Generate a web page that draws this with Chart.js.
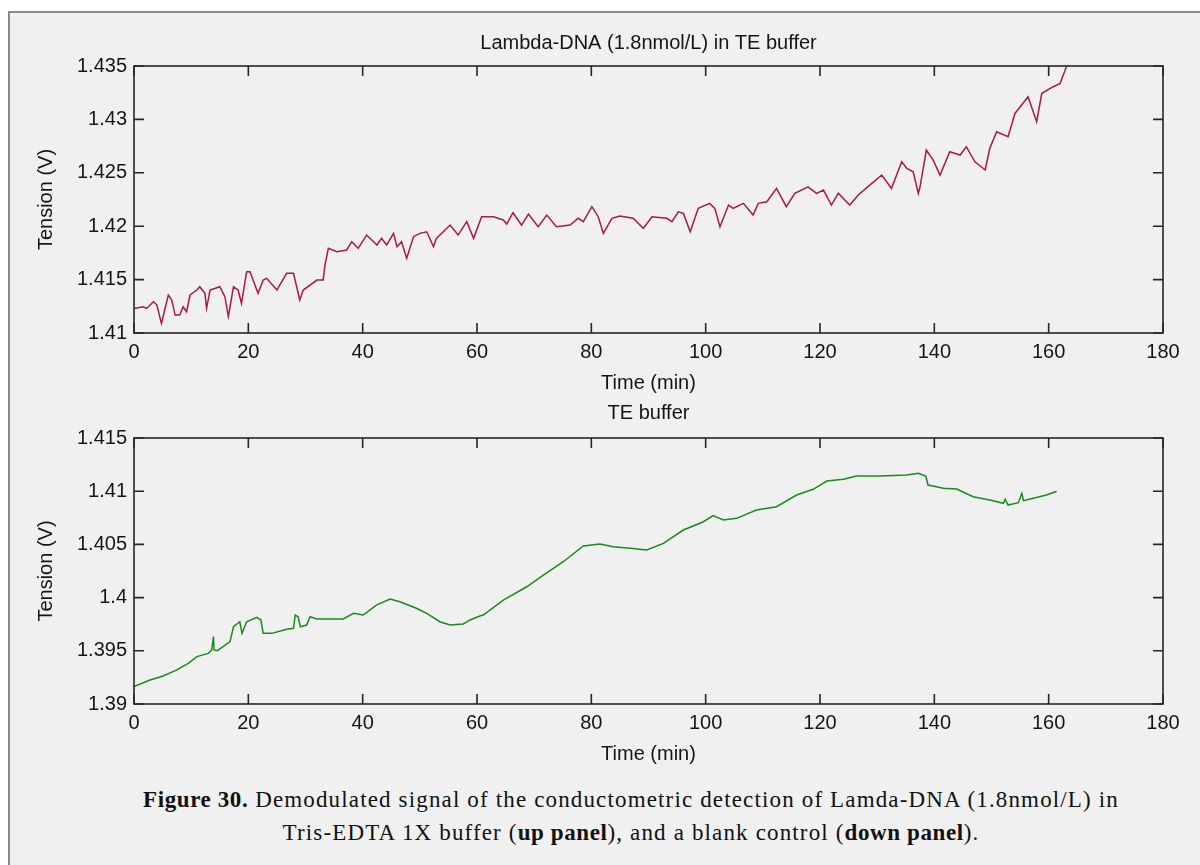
<!DOCTYPE html>
<html>
<head>
<meta charset="utf-8">
<script src="https://cdn.jsdelivr.net/npm/chart.js@4.4.1/dist/chart.umd.min.js"></script>
<style>
  html, body { margin: 0; padding: 0; background: #fff; }
  body { width: 1200px; height: 865px; position: relative; overflow: hidden; }
  #frame {
    position: absolute; left: 8px; top: 11px; width: 1220px; height: 880px;
    border: 2px solid #8a8a8a; background: #f0f0f0;
  }
  .panel { position: absolute; left: 0; width: 1200px; }
  #top-panel { top: 20px; height: 375px; }
  #bottom-panel { top: 390px; height: 376px; }
  #caption {
    position: absolute; left: 0; top: 783px; width: 1262px; text-align: center;
    font-family: "Liberation Serif", serif; font-size: 23px; line-height: 33px; color: #111;
    letter-spacing: 1.15px;
  }
  #caption b { font-weight: bold; letter-spacing: 0.6px; }
</style>
</head>
<body>
<div id="frame"></div>
<div class="panel" id="top-panel"><canvas id="top-chart"></canvas></div>
<div class="panel" id="bottom-panel"><canvas id="bottom-chart"></canvas></div>
<div id="caption"><b>Figure 30.</b> Demodulated signal of the conductometric detection of Lamda-DNA (1.8nmol/L) in<br>Tris-EDTA 1X buffer (<b>up panel</b>), and a blank control (<b>down panel</b>).</div>

<script>
// Up panel: Lambda-DNA in TE buffer (time in min, tension in V)
const redTime = [0, 1.6, 2.2, 3.4, 4.0, 4.5, 4.8, 6.0, 6.6, 7.2,
  8.0, 8.6, 9.2, 9.8, 11.0, 11.5, 12.4, 12.7, 13.3, 15.0,
  15.9, 16.5, 17.4, 18.2, 18.8, 19.7, 20.3, 21.7, 22.6, 23.2,
  25.0, 26.7, 27.9, 29.0, 29.6, 32.0, 33.1, 33.4, 34.0, 35.5,
  37.2, 38.1, 39.2, 40.7, 42.5, 43.3, 44.2, 45.4, 46.0, 46.8,
  47.7, 48.9, 50.0, 51.2, 52.4, 52.9, 55.3, 56.7, 58.2, 59.4,
  60.8, 62.9, 64.6, 65.2, 66.3, 67.8, 69.0, 70.7, 72.2, 73.9,
  76.3, 77.7, 78.6, 80.1, 81.2, 82.1, 83.6, 85.0, 87.3, 89.1,
  90.6, 93.2, 94.1, 95.2, 96.1, 97.3, 98.7, 100.7, 101.6, 102.5,
  104.0, 104.8, 106.6, 108.3, 109.2, 110.7, 112.4, 114.1, 115.6, 117.9,
  119.4, 120.6, 122.0, 123.2, 125.2, 126.7, 128.7, 130.8, 132.5, 134.3,
  135.2, 136.3, 137.2, 137.5, 138.6, 139.8, 141.0, 142.7, 144.5, 145.6,
  147.1, 148.9, 149.7, 150.9, 152.9, 154.1, 156.4, 157.9, 158.8, 160.8,
  162.0, 163.1, 164.0];
const redVolt = [1.4123, 1.41246, 1.4123, 1.41293, 1.41262, 1.41153, 1.4109, 1.41356, 1.41309, 1.41168,
  1.41168, 1.41246, 1.41199, 1.41356, 1.41402, 1.41433, 1.41372, 1.41231, 1.41402, 1.41433,
  1.4134, 1.41153, 1.41433, 1.41402, 1.41278, 1.41574, 1.41574, 1.41372, 1.41496, 1.41512,
  1.41402, 1.41559, 1.41559, 1.41309, 1.41402, 1.41496, 1.41496, 1.41636, 1.41793, 1.41761,
  1.41777, 1.41855, 1.41793, 1.41917, 1.41824, 1.41886, 1.41824, 1.41933, 1.41808, 1.41855,
  1.41699, 1.41902, 1.41933, 1.41948, 1.41808, 1.41886, 1.42011, 1.41917, 1.42042, 1.41886,
  1.42089, 1.42089, 1.42058, 1.4202, 1.42126, 1.42011, 1.42114, 1.41995, 1.42104, 1.41995,
  1.42011, 1.42074, 1.42042, 1.42183, 1.42089, 1.41933, 1.42074, 1.42095, 1.42074, 1.4198,
  1.42089, 1.42074, 1.42042, 1.42135, 1.4212, 1.41948, 1.42167, 1.42214, 1.42167, 1.41995,
  1.42198, 1.42167, 1.42214, 1.42104, 1.42214, 1.42229, 1.42354, 1.42183, 1.42308, 1.42369,
  1.42308, 1.42338, 1.42198, 1.42308, 1.42198, 1.42292, 1.42385, 1.42479, 1.42354, 1.42603,
  1.42541, 1.4251, 1.42308, 1.42369, 1.42713, 1.42619, 1.42479, 1.42697, 1.42666, 1.42744,
  1.42603, 1.42526, 1.42729, 1.42884, 1.42837, 1.43056, 1.43212, 1.42978, 1.43244, 1.43306,
  1.43337, 1.43493, 1.4358];

// Down panel: TE buffer blank
const greenTime = [0, 2.8, 5.1, 7.5, 9.5, 11.0, 13.0, 13.6, 13.9, 14.0,
  14.6, 16.8, 17.4, 18.5, 18.9, 19.7, 21.5, 22.2, 22.6, 24.1,
  26.7, 27.9, 28.2, 28.7, 29.1, 30.2, 30.8, 32.0, 36.6, 38.4,
  40.1, 42.4, 44.8, 46.5, 49.4, 51.2, 53.5, 55.3, 57.6, 58.8,
  60.5, 61.1, 64.6, 68.7, 71.6, 75.1, 78.6, 81.5, 83.8, 86.8,
  89.7, 92.6, 96.1, 99.6, 101.3, 103.1, 105.4, 108.9, 112.4, 115.9,
  118.8, 121.2, 124.1, 126.4, 130.5, 135.2, 137.2, 138.5, 138.9, 141.6,
  143.9, 146.8, 149.7, 152.1, 152.4, 152.9, 154.7, 155.3, 155.6, 157.3,
  159.6, 161.4];
const greenVolt = [1.39163, 1.39226, 1.39263, 1.3932, 1.39382, 1.39445, 1.39476, 1.39508, 1.39633, 1.39508,
  1.39501, 1.39586, 1.39726, 1.39773, 1.39664, 1.39773, 1.39815, 1.39789, 1.39664, 1.39664,
  1.39702, 1.39711, 1.39836, 1.3982, 1.39726, 1.39742, 1.3982, 1.39799, 1.39799, 1.39852,
  1.39836, 1.3993, 1.39987, 1.39961, 1.399, 1.39852, 1.39773, 1.39742, 1.39752, 1.3979,
  1.39827, 1.39836, 1.39977, 1.40102, 1.40212, 1.40337, 1.40485, 1.40504, 1.40478, 1.40463,
  1.40447, 1.4051, 1.40635, 1.40713, 1.4077, 1.40729, 1.40745, 1.40823, 1.40854, 1.40964,
  1.41018, 1.41096, 1.41112, 1.41143, 1.41143, 1.41152, 1.41168, 1.41143, 1.41058, 1.41027,
  1.41021, 1.40948, 1.40917, 1.40886, 1.40924, 1.4087, 1.40892, 1.4098, 1.40911, 1.40933,
  1.40964, 1.41];

const timeTicks = [0, 20, 40, 60, 80, 100, 120, 140, 160, 180];

const textColor = '#151515';
const axisFont = { family: '"Liberation Sans", Arial, sans-serif', size: 20 };

// frame around plot area with inward ticks on all 4 sides (matlab style)
const boxTicks = {
  id: 'boxTicks',
  afterDatasetsDraw(chart) {
    const { ctx, chartArea: a, scales: { x, y } } = chart;
    const len = 10;
    ctx.save();
    ctx.strokeStyle = '#262626';
    ctx.lineWidth = 1.6;
    ctx.strokeRect(a.left, a.top, a.right - a.left, a.bottom - a.top);
    ctx.beginPath();
    x.ticks.forEach(t => {
      const px = x.getPixelForValue(t.value);
      ctx.moveTo(px, a.bottom); ctx.lineTo(px, a.bottom - len);
      ctx.moveTo(px, a.top); ctx.lineTo(px, a.top + len);
    });
    y.ticks.forEach(t => {
      const py = y.getPixelForValue(t.value);
      ctx.moveTo(a.left, py); ctx.lineTo(a.left + len, py);
      ctx.moveTo(a.right, py); ctx.lineTo(a.right - len, py);
    });
    ctx.stroke();
    ctx.restore();
  }
};

const makeChart = (canvasId, title, times, volts, color, yMin, yMax, titlePadBottom) => {
  const points = times.map((t, i) => ({ x: t, y: volts[i] }));
  return new Chart(document.getElementById(canvasId), {
    type: 'line',
    data: {
      datasets: [{
        data: points,
        xAxisID: 'x',
        yAxisID: 'y',
        borderColor: color,
        borderWidth: 1.5,
        pointRadius: 0,
        tension: 0,
        fill: false
      }]
    },
    options: {
      responsive: true,
      maintainAspectRatio: false,
      animation: false,
      events: [],
      layout: { padding: { left: 0, right: 37, top: 0, bottom: 0 } },
      plugins: {
        legend: { display: false },
        tooltip: { enabled: false }
      },
      scales: {
        x: {
          type: 'linear',
          position: 'bottom',
          min: 0,
          max: 180,
          afterBuildTicks: axis => { axis.ticks = timeTicks.map(v => ({ value: v })); },
          afterFit: axis => { axis.height = 62; },
          grid: { display: false, drawTicks: false },
          border: { display: false },
          ticks: { color: textColor, font: axisFont, padding: 7, maxRotation: 0, autoSkip: false },
          title: {
            display: true,
            text: 'Time (min)',
            color: textColor,
            font: { ...axisFont, lineHeight: 0.9 },
            padding: { top: 0, bottom: 3 }
          }
        },
        // top axis only carries the panel title, so it centres over the plot box
        top: {
          type: 'linear',
          position: 'top',
          min: 0,
          max: 1,
          grid: { display: false, drawTicks: false },
          border: { display: false },
          ticks: { display: false },
          title: {
            display: true,
            text: title,
            color: textColor,
            font: axisFont,
            padding: { top: 11, bottom: titlePadBottom }
          }
        },
        y: {
          position: 'left',
          min: yMin,
          max: yMax,
          afterFit: axis => { axis.width = 134; },
          grid: { display: false, drawTicks: false },
          border: { display: false },
          ticks: {
            stepSize: 0.005,
            color: textColor,
            font: axisFont,
            padding: 7,
            callback: v => String(+v.toFixed(3))
          },
          title: {
            display: true,
            text: 'Tension (V)',
            color: textColor,
            font: axisFont,
            padding: { top: 34, bottom: 0 }
          }
        }
      }
    },
    plugins: [boxTicks]
  });
};

makeChart('top-chart', 'Lambda-DNA (1.8nmol/L) in TE buffer', redTime, redVolt, '#b0183c', 1.41, 1.435, 11);
makeChart('bottom-chart', 'TE buffer', greenTime, greenVolt, '#1a8a1a', 1.39, 1.415, 13);
</script>
</body>
</html>
